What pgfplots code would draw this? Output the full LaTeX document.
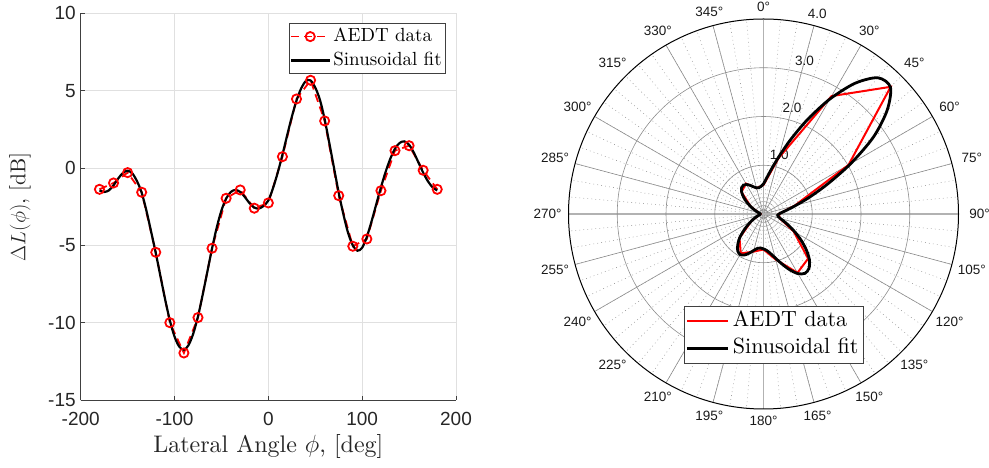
\documentclass[border=0pt]{standalone}
\usepackage{fontspec}
\setmainfont{lmroman10-regular.otf}[BoldFont=lmroman10-bold.otf, ItalicFont=lmroman10-italic.otf]
\usepackage{pgfplots}
\pgfplotsset{compat=1.18}
\usepackage{pgfplotstable}
\newfontfamily\arialfont{Liberation Sans}

\pgfplotstableread{
phi dL
-180 -1.38
-165 -0.97
-150 -0.30
-135 -1.57
-120 -5.45
-105 -10.00
-90 -11.96
-75 -9.67
-60 -5.19
-45 -1.96
-30 -1.42
-15 -2.60
0 -2.26
15 0.73
30 4.46
45 5.67
60 3.04
75 -1.79
90 -5.06
105 -4.59
120 -1.47
135 1.12
150 1.44
165 -0.15
180 -1.38
}\aedt

\pgfplotstableread{
phi dL
-180 -1.45
-175 -1.55
-170 -1.45
-165 -1.12
-160 -0.68
-155 -0.32
-150 -0.18
-145 -0.35
-140 -0.85
-135 -1.60
-130 -2.75
-125 -4.10
-120 -5.50
-115 -7.00
-110 -8.50
-105 -9.85
-100 -10.90
-95 -11.55
-90 -11.75
-85 -11.45
-80 -10.70
-75 -9.60
-70 -8.20
-65 -6.70
-60 -5.20
-55 -3.85
-50 -2.75
-45 -1.98
-40 -1.55
-35 -1.42
-30 -1.55
-25 -1.88
-20 -2.28
-15 -2.56
-10 -2.62
-5 -2.45
0 -2.10
5 -1.30
10 -0.30
15 0.85
20 2.10
25 3.30
30 4.35
35 5.15
40 5.62
45 5.66
50 5.20
55 4.40
60 3.15
65 1.60
70 0.00
75 -1.60
80 -3.00
85 -4.20
90 -5.00
95 -5.35
100 -5.15
105 -4.45
110 -3.45
115 -2.35
120 -1.25
125 -0.25
130 0.60
135 1.25
140 1.62
145 1.72
150 1.50
155 1.00
160 0.35
165 -0.30
170 -0.85
175 -1.25
180 -1.45
}\fit

\begin{document}
\begin{tikzpicture}[x=1pt,y=1pt]
\useasboundingbox (0pt,0pt) rectangle (989pt,468pt);

% ---------------- left: Cartesian plot ----------------
\begin{axis}[
  at={(80.7pt,68pt)}, anchor=south west,
  scale only axis, width=375.3pt, height=386.7pt,
  xmin=-200, xmax=200, ymin=-15, ymax=10,
  axis x line*=bottom, axis y line*=left,
  axis line style={black!75, line width=0.6pt},
  xtick={-200,-100,0,100,200},
  xticklabels={-200,-100,0,100,200},
  ytick={-15,-10,-5,0,5,10},
  yticklabels={-15,-10,-5,0,5,10},
  tick align=inside, major tick length=4pt,
  tick style={black!75, line width=0.6pt},
  ticklabel style={font=\arialfont\fontsize{19}{19}\selectfont, text=black!85},
  xticklabel style={yshift=-9pt},
  yticklabel style={xshift=-1.5pt},
  grid=major, major grid style={black!12, line width=0.6pt},
  xlabel={Lateral Angle $\phi$, [deg]},
  ylabel={$\Delta L(\phi)$, [dB]},
  xlabel style={font=\fontsize{24}{24}\selectfont, text=black!85,
    at={(axis description cs:0.5,-0.1215)}, anchor=center},
  ylabel style={font=\fontsize{21.5}{21.5}\selectfont, text=black!85,
    at={(axis description cs:-0.1617,0.5)}, anchor=center},
  legend cell align=left,
  legend style={at={(axis description cs:1,1)}, anchor=north east,
    xshift=-10pt, yshift=-10pt, draw=black!75, line width=0.6pt, fill=white,
    font=\fontsize{19}{22}\selectfont, inner sep=1pt, row sep=0pt,
    nodes={inner sep=3pt, text height=13.5pt, text depth=4.5pt},
    /tikz/every even column/.append style={column sep=0pt}},
  legend image code/.code={\draw[mark repeat=2,mark phase=2,#1] plot coordinates {(0pt,0pt) (19pt,0pt) (38pt,0pt)};},
]
\addplot[red, line width=1.8pt, dash pattern=on 8pt off 5pt,
  mark=o, mark size=4.6pt, mark options={solid, line width=1.8pt}]
  table[x=phi, y=dL] {\aedt};
\addlegendentry{AEDT data}
\addplot[black, line width=2.2pt, smooth, tension=0.5]
  table[x=phi, y=dL] {\fit};
\addlegendentry{Sinusoidal fit}
\end{axis}

% ---------------- right: polar grid ----------------
\begin{scope}[shift={(763.5pt,254pt)}]
  \foreach \a in {0,5,...,355}
    \draw[black!45, line width=0.5pt, dash pattern=on 0.8pt off 3.2pt] (0,0) -- ({195*sin(\a)},{195*cos(\a)});
  \foreach \a in {15,30,60,75,105,120,150,165,195,210,240,255,285,300,330,345}
    \draw[black!45, line width=0.6pt] (0,0) -- ({195*sin(\a)},{195*cos(\a)});
  \draw[black!30, line width=1.4pt] (-195,0) -- (195,0);
  \draw[black!30, line width=1.4pt] (0,-195) -- (0,195);
  \foreach \r in {1,2,3}
    \draw[black!45, line width=0.6pt] (0,0) circle ({48.75*\r});
  \draw[black, line width=1pt] (0,0) circle (195);
  \foreach \a in {0,30,45,60,75,90,105,120,135,150,165,180,195,210,225,240,255,270,285,300,315,330,345}
    \node[font=\arialfont\fontsize{13.5}{14}\selectfont, text=black!90, inner sep=0pt]
      at ({(207+9*abs(sin(\a)))*sin(\a)},{(207+9*abs(sin(\a)))*cos(\a)}) {\a°};
  \foreach \r/\t in {1/1.0,2/2.0,3/3.0,4/4.0}
    \node[font=\arialfont\fontsize{13.5}{14}\selectfont, text=black!90, inner sep=0pt]
      at ({(48.75*\r+12.5)*sin(15)},{(48.75*\r+12.5)*cos(15)}) {\t};
\end{scope}

% ---------------- right: polar data ----------------
\begin{axis}[
  at={(763.5pt,254pt)}, anchor=center,
  scale only axis, width=390pt, height=390pt,
  xmin=-4, xmax=4, ymin=-4, ymax=4,
  axis lines=none, clip=false,
  legend cell align=left,
  legend style={at={(axis description cs:0.297,0.264)}, anchor=north west,
    draw=black!75, line width=0.6pt, fill=white,
    font=\fontsize{22}{25}\selectfont, inner sep=1pt, row sep=0pt,
    nodes={inner sep=3.5pt, text height=15.5pt, text depth=5pt},
    /tikz/every even column/.append style={column sep=0pt}},
  legend image code/.code={\draw[#1] (0pt,0pt) -- (41pt,0pt);},
]
\addplot[red, line width=2pt]
  table[x expr={exp(0.2302585*\thisrow{dL})*sin(\thisrow{phi})},
        y expr={exp(0.2302585*\thisrow{dL})*cos(\thisrow{phi})}] {\aedt};
\addlegendentry{AEDT data}
\addplot[black, line width=2.8pt, smooth, tension=0.5]
  table[x expr={exp(0.2302585*\thisrow{dL})*sin(\thisrow{phi})},
        y expr={exp(0.2302585*\thisrow{dL})*cos(\thisrow{phi})}] {\fit};
\addlegendentry{Sinusoidal fit}
\end{axis}
\end{tikzpicture}
\end{document}
